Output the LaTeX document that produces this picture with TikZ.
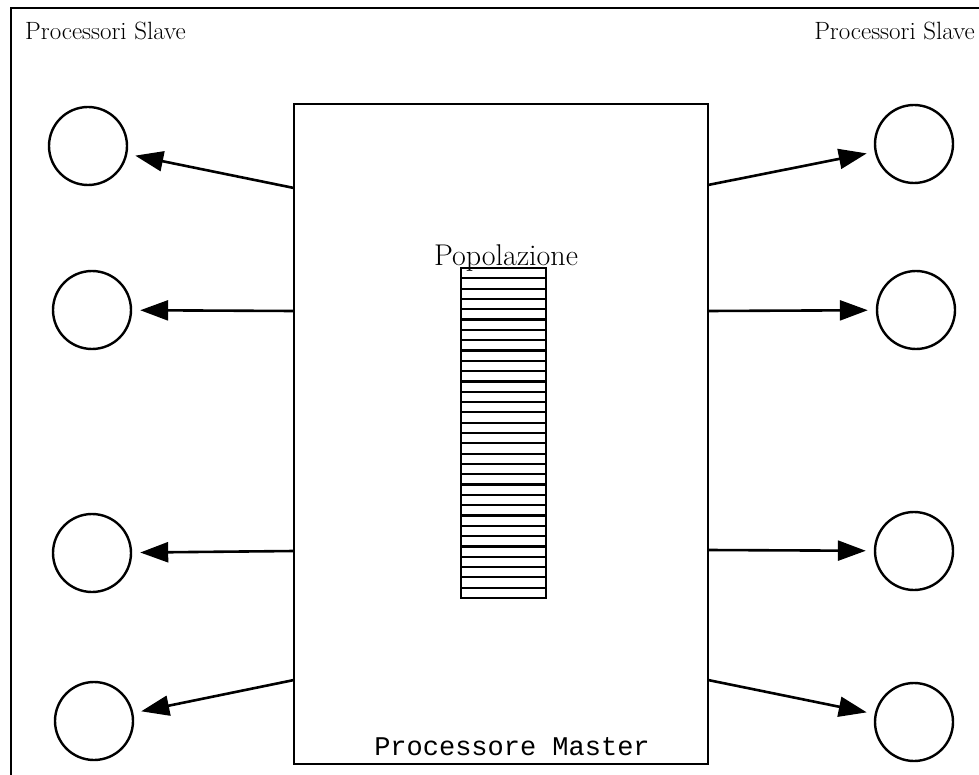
\documentclass[tikz,border=0pt]{standalone}
\usepackage{fontspec}
\newfontfamily\codefont{Liberation Mono}
\usetikzlibrary{arrows.meta}
\begin{document}
\begin{tikzpicture}[x=1pt,y=-1pt,
  slave/.style={circle,draw,line width=2.4pt,minimum size=78pt,inner sep=0pt},
  master/.style={draw,line width=2.8pt,minimum width=414pt,minimum height=660pt,inner sep=0pt},
  link/.style={line width=2.6pt,-{Triangle[length=28pt,width=20pt]},shorten >=8pt},
  caption/.style={inner sep=0pt,font=\fontsize{25}{29}\selectfont},
  stripe/.style={line width=2.2pt}]
\useasboundingbox (0,0) rectangle (979,775);
\clip (0,0) rectangle (979,775);

% outer frame, running past the right and bottom edges
\draw[line width=2.6pt] (11,8) rectangle (1010,810);

\node[caption,anchor=base west] (lbl) at (25,40) {Processori Slave};
\node[caption,anchor=base east] (rbl) at (975,40) {Processori Slave};

% master processor
\node[master] (master) at (501,434) {};
\node[inner sep=0pt,anchor=base,font=\codefont\fontsize{27}{31}\selectfont] (mtext) at (512,755) {Processore Master};

% population stack
\node[draw,line width=2.8pt,minimum width=85pt,minimum height=330pt,inner sep=0pt] (pop) at (503.5,433) {};
\foreach \i in {1,...,31}
  \draw[stripe] ({461},{268+\i*10.3125}) -- ({546},{268+\i*10.3125});
\node[inner sep=0pt,anchor=base,font=\fontsize{30}{34}\selectfont] (poplbl) at (506,266) {Popolazione};

% slave processors
\node[slave] (l1) at (88,146) {};
\node[slave] (l2) at (92,310) {};
\node[slave] (l3) at (92,553) {};
\node[slave] (l4) at (94,721) {};
\node[slave] (r1) at (914,144) {};
\node[slave] (r2) at (916,310) {};
\node[slave] (r3) at (914,551) {};
\node[slave] (r4) at (914,722) {};

% link points on the master box
\coordinate (ml1) at (294,188);
\coordinate (ml2) at (294,311);
\coordinate (ml3) at (294,551);
\coordinate (ml4) at (294,680);
\coordinate (mr1) at (708,185);
\coordinate (mr2) at (708,311);
\coordinate (mr3) at (708,550);
\coordinate (mr4) at (708,680);

\draw[link] (ml1) -- (l1);
\draw[link] (ml2) -- (l2);
\draw[link] (ml3) -- (l3);
\draw[link] (ml4) -- (l4);
\draw[link] (mr1) -- (r1);
\draw[link] (mr2) -- (r2);
\draw[link] (mr3) -- (r3);
\draw[link] (mr4) -- (r4);
\end{tikzpicture}
\end{document}
